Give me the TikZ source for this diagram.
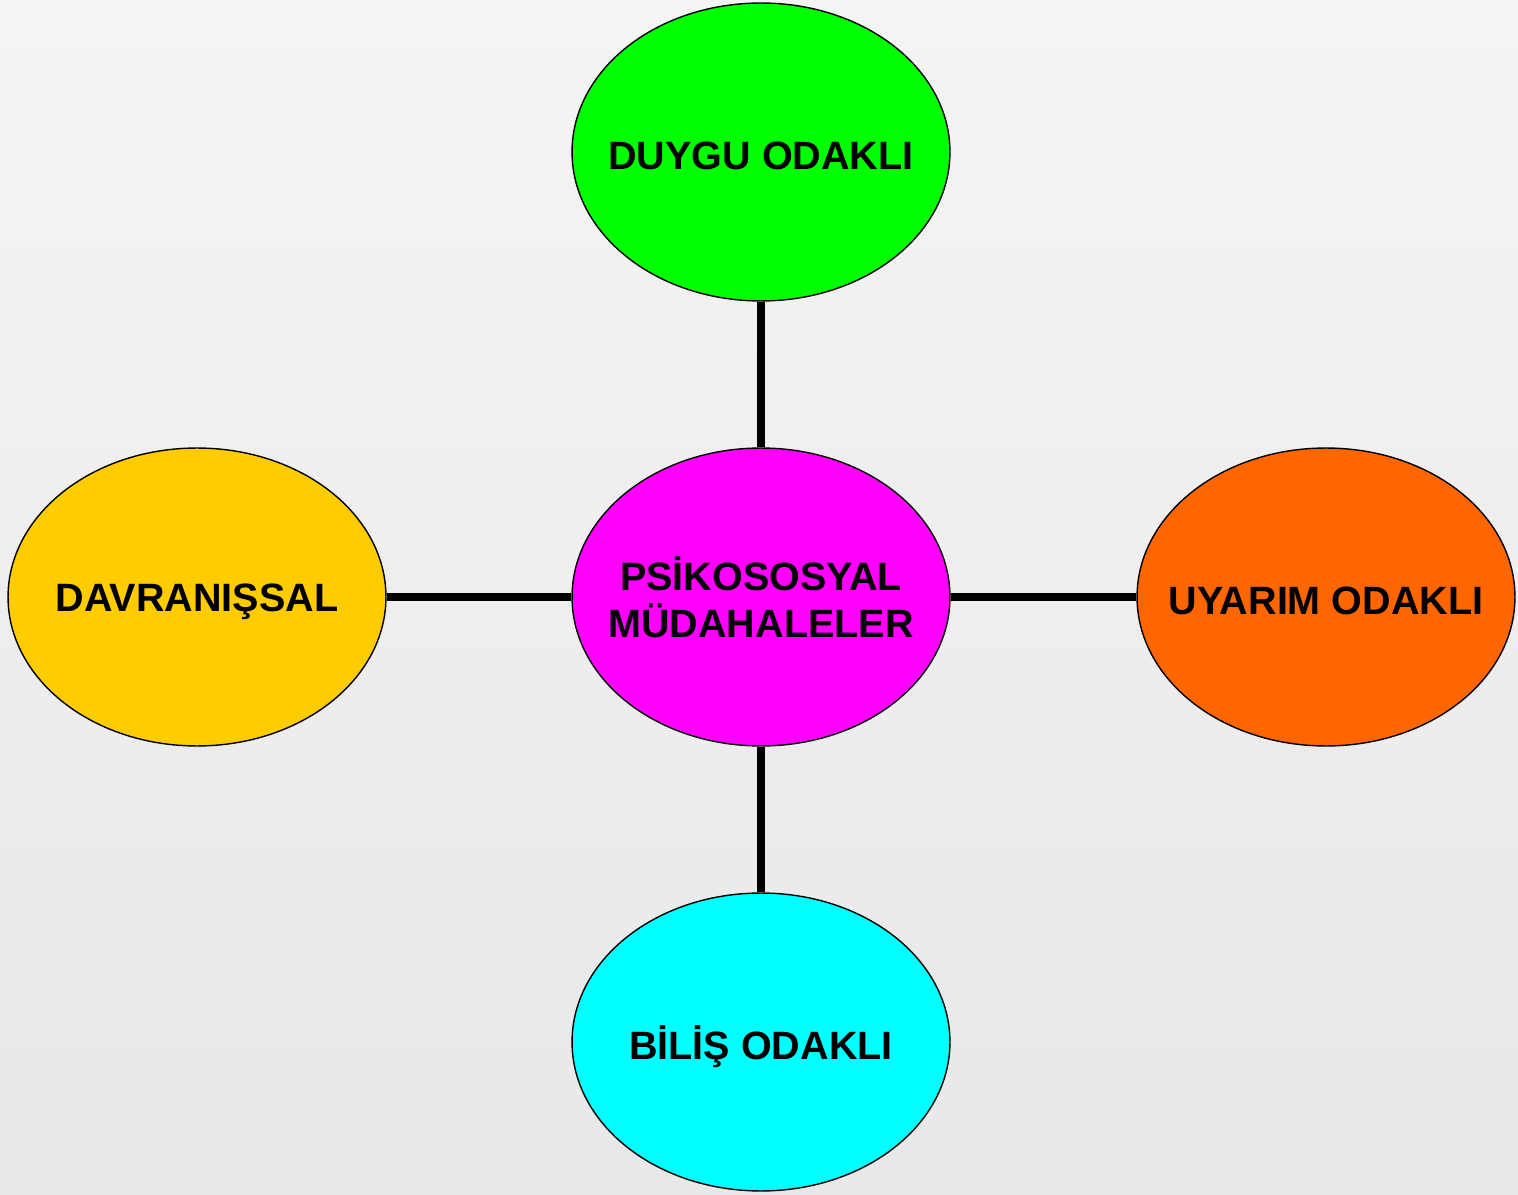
\documentclass[tikz,border=0pt]{standalone}
\usepackage{fontspec}
\setmainfont{Liberation Sans}
\usetikzlibrary{shapes.geometric,positioning}

\definecolor{bgtop}{HTML}{F4F4F4}
\definecolor{bgbottom}{HTML}{E8E8E8}
\definecolor{duygu}{HTML}{00FF00}
\definecolor{psiko}{HTML}{FF00FF}
\definecolor{uyarim}{HTML}{FF6600}
\definecolor{davran}{HTML}{FFCC00}
\definecolor{bilis}{HTML}{00FFFF}

\begin{document}
\begin{tikzpicture}
[
	x	= 0.02cm,	% one pixel of the reference
	y	= -0.02cm,	% y grows downwards as in the reference
	topic/.style	= {ellipse, draw=black, line width=0.8pt, inner sep=0pt,
		minimum width=7.56cm, minimum height=5.96cm},
	topictext/.style	= {font=\fontsize{22.5}{26.7}\selectfont\bfseries, align=center, yshift=-2.5pt},
	link/.style	= {line width=5pt, color=black},
]

% background
\shade [top color=bgtop, bottom color=bgbottom] (0,0) rectangle (1518,1195);
\useasboundingbox (0,0) rectangle (1518,1195);

% ellipses
\node [topic, fill=psiko, label={[topictext, yshift=2.5pt]center:PSİKOSOSYAL\\MÜDAHALELER}] (psikososyal) at (761,597) {};
\node [topic, fill=duygu, label={[topictext]center:DUYGU ODAKLI}] (duygu) at (761,152) {};
\node [topic, fill=bilis, label={[topictext]center:BİLİŞ ODAKLI}] (bilis) at (761,1042) {};
\node [topic, fill=davran, label={[topictext]center:DAVRANIŞSAL}] (davranissal) at (197,597) {};
\node [topic, fill=uyarim, label={[topictext]center:UYARIM ODAKLI}] (uyarim) at (1326,597) {};

% connectors
\draw [link] (duygu) -- (psikososyal);
\draw [link] (psikososyal) -- (bilis);
\draw [link] (davranissal) -- (psikososyal);
\draw [link] (psikososyal) -- (uyarim);

\end{tikzpicture}
\end{document}
